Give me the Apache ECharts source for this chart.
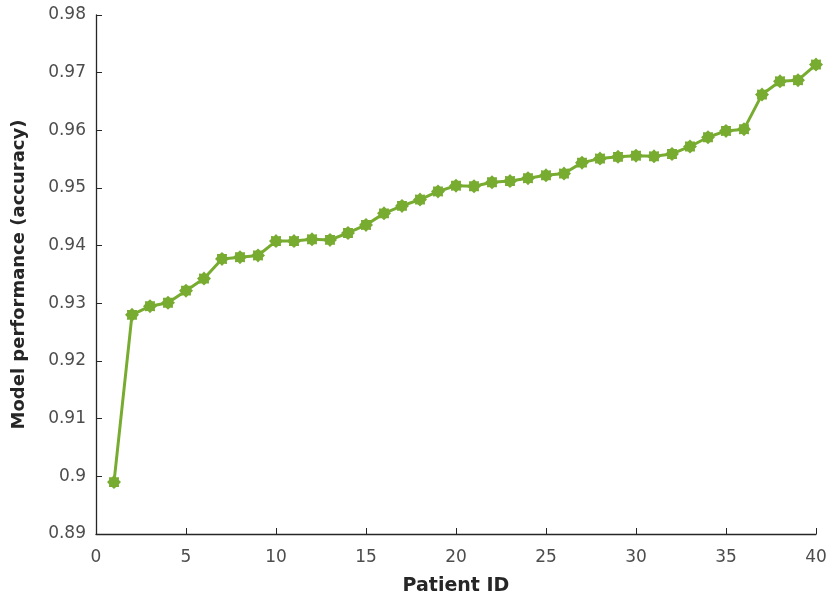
<!DOCTYPE html>
<html>
<head>
<meta charset="utf-8">
<script src="https://cdn.jsdelivr.net/npm/echarts@6/dist/echarts.min.js"></script>
<style>
html,body{margin:0;padding:0;background:#fff;}
#chart{width:833px;height:604px;}
</style>
</head>
<body>
<div id="chart"></div>
<script>
var patientIds = [1,2,3,4,5,6,7,8,9,10,11,12,13,14,15,16,17,18,19,20,21,22,23,24,25,26,27,28,29,30,31,32,33,34,35,36,37,38,39,40];
var accuracy = [0.8990,0.9280,0.9295,0.9301,0.9322,0.9343,0.9377,0.9380,0.9383,0.9408,
                0.9408,0.9411,0.9410,0.9422,0.9436,0.9456,0.9469,0.9480,0.9494,0.9504,
                0.9503,0.9510,0.9512,0.9517,0.9522,0.9525,0.9544,0.9551,0.9554,0.9556,
                0.9555,0.9559,0.9572,0.9588,0.9599,0.9602,0.9662,0.9685,0.9687,0.9714];
var xTitle = 'Patient ID';
var yTitle = 'Model performance (accuracy)';

var starPath = 'path://M0,-10 L3,-7 L7.1,-7.1 L7,-3 L10,0 L7,3 L7.1,7.1 L3,7 L0,10 L-3,7 L-7.1,7.1 L-7,3 L-10,0 L-7,-3 L-7.1,-7.1 L-3,-7 Z';

var chart = echarts.init(document.getElementById('chart'), null, {renderer:'canvas'});
var axisColor = '#262626';
var labelColor = '#4d4d4d';
var font = 'DejaVu Sans';
chart.setOption({
  animation:false,
  backgroundColor:'#ffffff',
  grid:{left:96, right:17, top:15, bottom:70, containLabel:false},
  xAxis:{
    type:'value', min:0, max:40, interval:5,
    name:xTitle, nameLocation:'middle', nameGap:43,
    nameTextStyle:{fontFamily:font, fontWeight:'bold', fontSize:19, color:'#262626'},
    axisLine:{show:true, onZero:false, lineStyle:{color:axisColor, width:1.3}},
    axisTick:{show:true, inside:true, length:6, lineStyle:{color:axisColor}},
    axisLabel:{fontFamily:font, fontSize:17, color:labelColor, margin:15},
    splitLine:{show:false}
  },
  yAxis:{
    type:'value', min:0.89, max:0.98, interval:0.01,
    name:yTitle, nameLocation:'middle', nameGap:68, nameRotate:90,
    nameTextStyle:{fontFamily:font, fontWeight:'bold', fontSize:18, color:'#262626'},
    axisLine:{show:true, onZero:false, lineStyle:{color:axisColor, width:1.3}},
    axisTick:{show:true, inside:true, length:6, lineStyle:{color:axisColor}},
    axisLabel:{fontFamily:font, fontSize:17, color:labelColor, margin:10, padding:[5,0,0,0],
      formatter:function(v){return String(parseFloat(v.toFixed(2)));}},
    splitLine:{show:false}
  },
  series:[{
    type:'line',
    data:patientIds.map(function(id,i){return [id, accuracy[i]];}),
    symbol:starPath, symbolSize:14, showAllSymbol:true,
    lineStyle:{color:'#77AC30', width:3},
    itemStyle:{color:'#77AC30', borderWidth:0},
    emphasis:{disabled:true}
  }]
});
</script>
</body>
</html>
